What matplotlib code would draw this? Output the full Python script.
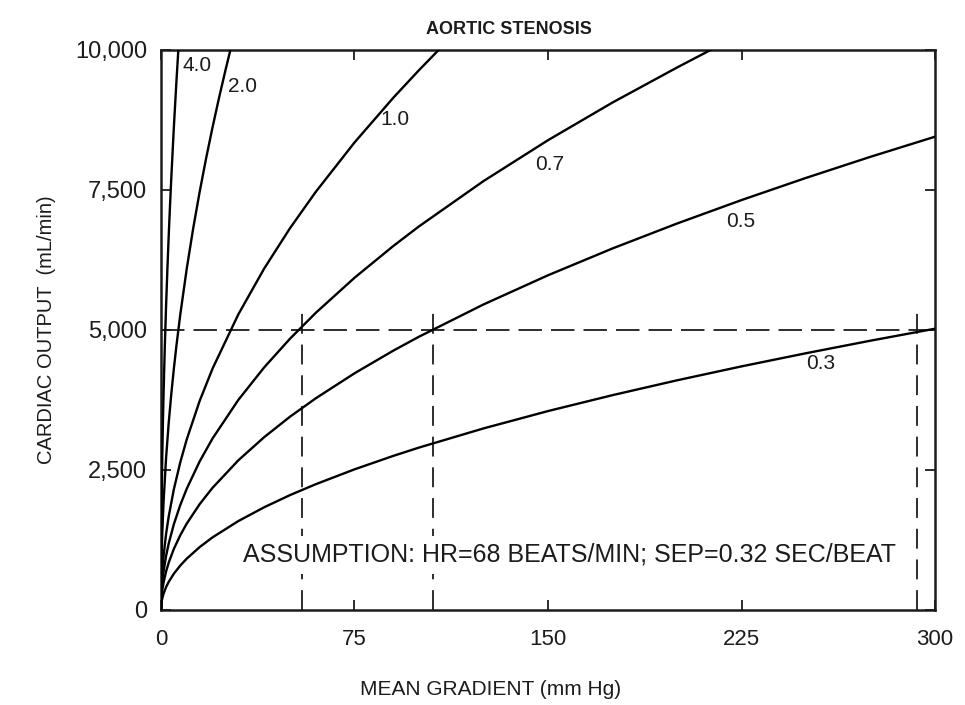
import matplotlib
matplotlib.use("Agg")
import matplotlib.pyplot as plt
from matplotlib.ticker import FuncFormatter

# valve area curves (cm^2): gradient (mm Hg) vs cardiac output (mL/min)
g_03 = [0, 0.05, 0.1, 0.25, 0.5, 1, 2, 3, 5, 7.5, 10, 15, 20, 30, 40, 50, 60, 75, 90,
        100, 125, 150, 175, 200, 225, 250, 275, 300]
co_03 = [0, 65, 92, 145, 205, 290, 410, 502, 648, 794, 917, 1123, 1297, 1588, 1834, 2051,
         2246, 2511, 2751, 2900, 3242, 3552, 3836, 4101, 4350, 4585, 4809, 5023]

g_05 = [0, 0.05, 0.1, 0.25, 0.5, 1, 2, 3, 5, 7.5, 10, 15, 20, 30, 40, 50, 60, 75, 90,
        100, 125, 150, 175, 200, 225, 250, 275, 300]
co_05 = [0, 109, 154, 244, 345, 488, 690, 845, 1091, 1336, 1543, 1890, 2182, 2673, 3086,
         3451, 3780, 4226, 4630, 4880, 5456, 5977, 6456, 6901, 7320, 7716, 8093, 8452]

g_07 = [0, 0.05, 0.1, 0.25, 0.5, 1, 2, 3, 5, 7.5, 10, 15, 20, 30, 40, 50, 60, 75, 90,
        100, 125, 150, 175, 200, 213]
co_07 = [0, 153, 217, 343, 484, 685, 969, 1186, 1532, 1876, 2166, 2653, 3063, 3752, 4332,
         4844, 5306, 5932, 6498, 6850, 7659, 8389, 9062, 9687, 10000]

g_10 = [0, 0.05, 0.1, 0.25, 0.5, 1, 2, 3, 5, 7.5, 10, 15, 20, 30, 40, 50, 60, 75, 90,
        100, 107.6]
co_10 = [0, 216, 305, 482, 682, 964, 1363, 1670, 2156, 2640, 3048, 3734, 4311, 5280, 6097,
         6817, 7467, 8348, 9145, 9640, 10000]

g_20 = [0, 0.05, 0.1, 0.25, 0.5, 1, 2, 3, 4, 5, 6, 7.5, 10, 12.5, 15, 17.5, 20, 22.5,
        25, 26.9]
co_20 = [0, 431, 610, 964, 1363, 1928, 2727, 3339, 3856, 4311, 4723, 5280, 6097, 6817,
         7467, 8066, 8622, 9145, 9640, 10000]

g_40 = [0, 0.02, 0.05, 0.1, 0.25, 0.5, 0.75, 1, 1.5, 2, 2.5, 3, 3.5, 4, 5, 6, 6.73]
co_40 = [0, 545, 862, 1219, 1928, 2727, 3339, 3856, 4723, 5453, 6097, 6679, 7214, 7712,
         8622, 9445, 10000]

curves = [(g_40, co_40), (g_20, co_20), (g_10, co_10), (g_07, co_07), (g_05, co_05), (g_03, co_03)]
curve_labels = ["4.0", "2.0", "1.0", "0.7", "0.5", "0.3"]
label_x = [14.0, 31.5, 90.5, 150.5, 224.5, 255.5]
label_y = [9730, 9340, 8750, 7950, 6930, 4410]

# worked example at 5,000 mL/min
ref_co = 5000
ref_gradients = [54.7, 105.4, 293.0]

x_ticks = [0, 75, 150, 225, 300]
y_ticks = [0, 2500, 5000, 7500, 10000]

plt.rcParams["font.family"] = ["Liberation Sans", "DejaVu Sans"]
ink = "#1c1c1c"

fig = plt.figure(figsize=(9.65, 7.05), dpi=100)
ax = fig.add_axes([0.1668, 0.1348, 0.8022, 0.7943])

for (g, co) in curves:
    ax.plot(g, co, color="black", lw=1.7, solid_joinstyle="round", zorder=3)

for lab, lx, ly in zip(curve_labels, label_x, label_y):
    ax.text(lx, ly, lab, fontsize=15, ha="center", va="center", color=ink, zorder=5)

# dashed reference lines
ax.plot([0, 300], [ref_co, ref_co], color=ink, lw=1.3, dashes=(13, 5), zorder=2)
for gx in ref_gradients:
    ax.plot([gx, gx], [0, 5450], color=ink, lw=1.3, dashes=(11, 6), zorder=2)

ax.text(158.5, 985, "ASSUMPTION: HR=68 BEATS/MIN; SEP=0.32 SEC/BEAT",
        fontsize=18, ha="center", va="center", color=ink, zorder=4,
        bbox=dict(facecolor="white", edgecolor="none", pad=5))

ax.set_xlim(0, 300)
ax.set_ylim(0, 10000)
ax.set_xticks(x_ticks)
ax.set_yticks(y_ticks)
ax.yaxis.set_major_formatter(FuncFormatter(lambda v, p: f"{int(v):,}"))
ax.tick_params(direction="in", length=7, width=1.3, top=True, right=True,
               colors=ink)
ax.tick_params(axis="y", labelsize=17, pad=10)
ax.tick_params(axis="x", labelsize=16, pad=14)
for s in ax.spines.values():
    s.set_linewidth(1.8)
    s.set_color(ink)

fig.text(0.527, 0.958, "AORTIC STENOSIS", fontsize=13, fontweight="bold", color=ink,
         ha="center", va="center")
fig.text(0.508, 0.022, "MEAN GRADIENT (mm Hg)", fontsize=15, color=ink,
         ha="center", va="center")
ax.set_ylabel("CARDIAC OUTPUT  (mL/min)", fontsize=14.5, color=ink, labelpad=14)

fig.savefig("out.png", dpi=100)
